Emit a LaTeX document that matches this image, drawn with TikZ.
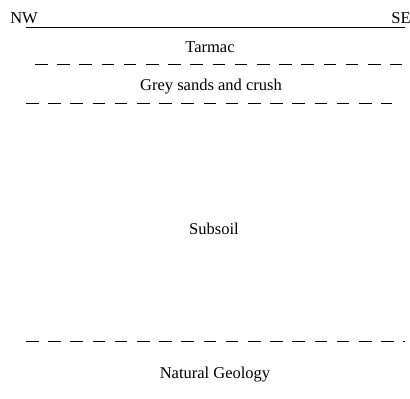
\documentclass[tikz,border=0pt]{standalone}
\usepackage{fontspec}
\setmainfont{Liberation Serif}
\begin{document}
\begin{tikzpicture}[x=1pt,y=-1pt,
  lbl/.style={font=\fontsize{16.5}{19}\selectfont, inner sep=0pt},
  bound/.style={line width=0.9pt, dash pattern=on 12.5pt off 9.7pt}]
\useasboundingbox (0,0) rectangle (410,399);
\node[lbl] (nw) at (24,18) {NW};
\node[lbl] (se) at (401,18) {SE};
\coordinate (s1) at (26,27); \coordinate (s2) at (405,27);
\draw[line width=0.8pt] (s1) -- (s2);
\node[lbl] (tarmac) at (210,47) {Tarmac};
\coordinate (a1) at (35,64); \coordinate (a2) at (402,64);
\draw[bound] (a1) -- (a2);
\node[lbl] (grey) at (211,87) {Grey sands and crush};
\coordinate (b1) at (26,103); \coordinate (b2) at (392,103);
\draw[bound] (b1) -- (b2);
\node[lbl] (sub) at (214,229) {Subsoil};
\coordinate (c1) at (26,341); \coordinate (c2) at (405,341);
\draw[bound] (c1) -- (c2);
\node[lbl] (nat) at (215,375) {Natural Geology};
\end{tikzpicture}
\end{document}
